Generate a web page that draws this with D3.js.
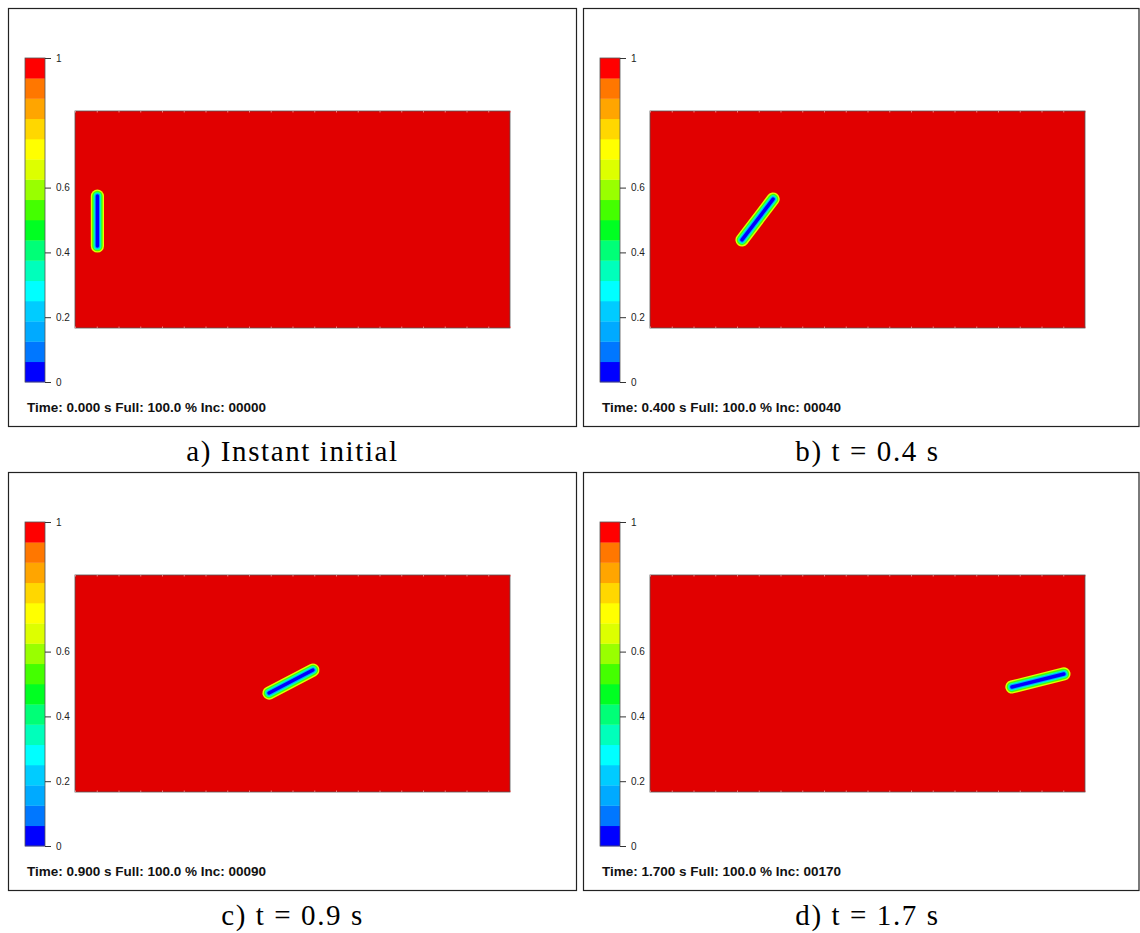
<!DOCTYPE html>
<html><head><meta charset="utf-8">
<script src="https://cdn.jsdelivr.net/npm/d3@7"></script>
<style>body{margin:0;background:#fff}svg{display:block}</style>
</head><body>
<svg id="chart" width="1140" height="933"></svg>
<script>
// ---- data ----
const captions = ["a) Instant initial", "b) t = 0.4 s", "c) t = 0.9 s", "d) t = 1.7 s"];
const times = [0.000, 0.400, 0.900, 1.700];
const fullPct = [100.0, 100.0, 100.0, 100.0];
const incs = [0, 40, 90, 170];
// body centre-line end points in domain coordinates (domain 2 x 1)
const bodyX0 = [0.103, 0.423, 0.892, 1.664];
const bodyY0 = [0.378, 0.406, 0.456, 0.484];
const bodyX1 = [0.103, 0.566, 1.094, 1.903];
const bodyY1 = [0.608, 0.594, 0.562, 0.544];
// fraction levels across the interface, outside -> inside
const fieldLevels = [0.68, 0.5, 0.32, 0.16, 0.03];
const barTicks = [0, 0.2, 0.4, 0.6, 1];
const barColors = ["#0000ff","#0077ff","#00aaff","#00ccff","#00ffff","#00ffbb","#00ff77","#00ff22",
                   "#44ff00","#99ff00","#ddff00","#ffff00","#ffd700","#ffa500","#ff7700","#ff0000"];
const domainX = [0, 2], domainY = [0, 1];

// ---- drawing ----
const svg = d3.select("#chart");
const colorQ = d3.scaleQuantize().domain([0, 1]).range(barColors);
const panelW = 569, panelH = 418;
const offsets = [[0, 0], [575, 0], [0, 464], [575, 464]];

offsets.forEach(([ox, oy], i) => {
  const g = svg.append("g").attr("transform", `translate(${ox},${oy})`);
  // frame
  const fw = Math.min(panelW, 1139.5 - (ox + 8));
  g.append("rect").attr("x", 8.5).attr("y", 8.5).attr("width", fw - 1).attr("height", panelH)
    .attr("fill", "#fff").attr("stroke", "#222").attr("stroke-width", 1.2);

  // colour bar
  const cb = d3.scaleLinear().domain([0, 1]).range([382, 58]);
  const n = barColors.length;
  g.selectAll("rect.band").data(barColors).join("rect").attr("class", "band")
    .attr("x", 25).attr("width", 20)
    .attr("y", (d, k) => cb((k + 1) / n)).attr("height", (d, k) => cb(k / n) - cb((k + 1) / n) + 0.3)
    .attr("fill", d => d);
  g.append("rect").attr("x", 25).attr("y", 58).attr("width", 20).attr("height", 324)
    .attr("fill", "none").attr("stroke", "#555").attr("stroke-width", 0.8);
  const ax = d3.axisRight(cb).tickValues(barTicks).tickSize(6).tickPadding(5)
    .tickFormat(d => d === 0 ? "0" : d === 1 ? "1" : d3.format(".1f")(d));
  const axG = g.append("g").attr("transform", "translate(45,0)").call(ax);
  axG.select(".domain").remove();
  axG.selectAll("line").attr("stroke", "#333");
  axG.selectAll("text").attr("font-family", "Liberation Sans, Arial, sans-serif")
    .attr("font-size", 10).attr("fill", "#222");

  // domain
  const x = d3.scaleLinear().domain(domainX).range([75, 510]);
  const y = d3.scaleLinear().domain(domainY).range([328, 111]);
  g.append("rect").attr("x", x(0)).attr("y", y(1)).attr("width", x(2) - x(0)).attr("height", y(0) - y(1))
    .attr("fill", "#e10000").attr("stroke", "#555").attr("stroke-width", 0.8);
  // mesh ticks on top and bottom edges
  const tv = d3.range(0, 2.0001, 0.1);
  [["top", y(1)], ["bottom", y(0)]].forEach(([side, yy]) => {
    const a = (side === "top" ? d3.axisBottom(x) : d3.axisTop(x)).tickValues(tv).tickSize(1.5).tickFormat("");
    const t = g.append("g").attr("transform", `translate(0,${yy})`).call(a);
    t.select(".domain").remove();
    t.selectAll("line").attr("stroke", "#e88080").attr("stroke-width", 1);
  });

  // body (interface bands)
  const bg = g.append("g");
  fieldLevels.forEach(v => {
    bg.append("line")
      .attr("x1", x(bodyX0[i])).attr("y1", y(bodyY0[i]))
      .attr("x2", x(bodyX1[i])).attr("y2", y(bodyY1[i]))
      .attr("stroke", colorQ(v)).attr("stroke-width", 3 + 15 * v)
      .attr("stroke-linecap", "round");
  });

  // info text
  g.append("text").attr("x", 27).attr("y", 412)
    .attr("font-family", "Liberation Sans, Arial, sans-serif").attr("font-size", 13.5)
    .attr("font-weight", "bold").attr("fill", "#111")
    .text(`Time: ${times[i].toFixed(3)} s Full: ${fullPct[i].toFixed(1)} % Inc: ${String(incs[i]).padStart(5, "0")}`);

  // caption
  g.append("text").attr("x", 8 + panelW / 2).attr("y", 461).attr("text-anchor", "middle")
    .attr("font-family", "Liberation Serif, Times New Roman, serif").attr("font-size", 29)
    .attr("letter-spacing", 1.6).attr("fill", "#000").text(captions[i]);
});
</script>
</body></html>
